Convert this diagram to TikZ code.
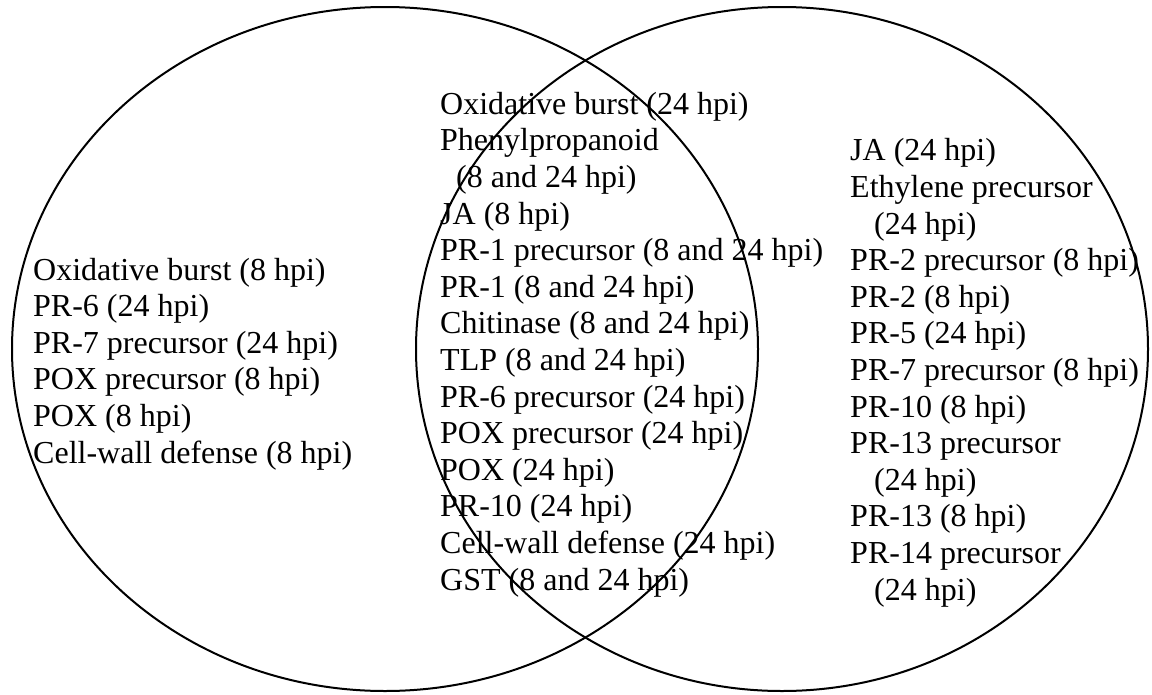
\documentclass[tikz,border=0pt]{standalone}
\usepackage{fontspec}
\setmainfont{Liberation Serif}

\begin{document}
\begin{tikzpicture}[x=1pt,y=-1pt]
    % set up ink colour and text style
    \definecolor{vennInk}{RGB}{0,0,0}
    \tikzstyle{every node}=[font=\fontsize{32}{36.6}\selectfont, text=vennInk, inner sep=0pt, align=left, anchor=base west]
    \tikzstyle{vennRing}=[line width=2pt, draw=vennInk]
    \useasboundingbox (0,0) rectangle (1152,694);

    % draw the two circles
    \draw[vennRing] (385,349) ellipse [x radius=373pt, y radius=342pt];
    \draw[vennRing] (782,349) ellipse [x radius=366pt, y radius=342pt];

    % left circle only (placed by the base of its last line)
    \node (leftList) at (33,463) {Oxidative burst (8 hpi)\\PR-6 (24 hpi)\\PR-7 precursor (24 hpi)\\POX precursor (8 hpi)\\POX (8 hpi)\\Cell-wall defense (8 hpi)};

    % overlap of both circles
    \node (bothList) at (440,590) {Oxidative burst (24 hpi)\\Phenylpropanoid\\\hspace*{16pt}(8 and 24 hpi)\\JA (8 hpi)\\PR-1 precursor (8 and 24 hpi)\\PR-1 (8 and 24 hpi)\\Chitinase (8 and 24 hpi)\\TLP (8 and 24 hpi)\\PR-6 precursor (24 hpi)\\POX precursor (24 hpi)\\POX (24 hpi)\\PR-10 (24 hpi)\\Cell-wall defense (24 hpi)\\GST (8 and 24 hpi)};

    % right circle only
    \node (rightList) at (850,600) {JA (24 hpi)\\Ethylene precursor\\\hspace*{24pt}(24 hpi)\\PR-2 precursor (8 hpi)\\PR-2 (8 hpi)\\PR-5 (24 hpi)\\PR-7 precursor (8 hpi)\\PR-10 (8 hpi)\\PR-13 precursor\\\hspace*{24pt}(24 hpi)\\PR-13 (8 hpi)\\PR-14 precursor\\\hspace*{24pt}(24 hpi)};

\end{tikzpicture}
\end{document}
